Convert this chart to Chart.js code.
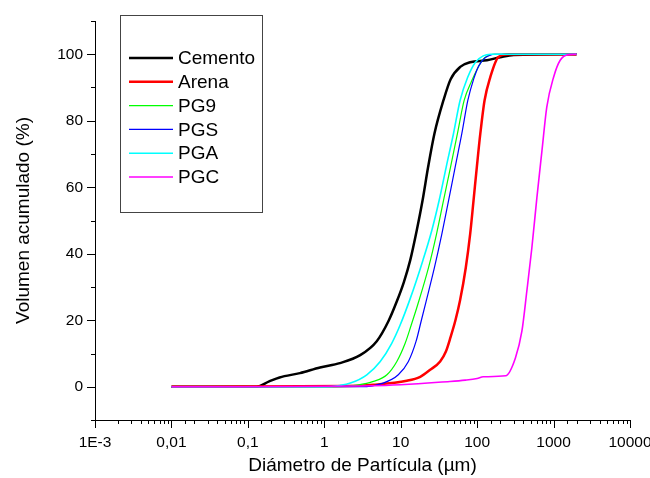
<!DOCTYPE html>
<html>
<head>
<meta charset="utf-8">
<script src="https://cdn.jsdelivr.net/npm/chart.js@4"></script>
<style>
  html, body { margin: 0; padding: 0; background: #fff; }
  #wrap { width: 650px; height: 478px; }
</style>
</head>
<body>
<div id="wrap"><canvas id="psdChart" width="650" height="478"></canvas></div>
<script>
// particle size distributions (cumulative volume, %)
var cementoX = [0.01, 0.13, 0.19, 0.26, 0.48, 0.88, 1.6, 2.95, 4.86, 6.9, 8.9, 11, 13.3, 16.2, 19.3, 22.8, 27.6, 36.2, 45, 60, 81, 134, 200, 300, 2000];
var cementoY = [0, 0, 1.6, 2.8, 4.1, 5.8, 7.1, 9.5, 13.7, 19.7, 25.7, 31.5, 38, 47, 56, 66, 76.1, 86.1, 92.5, 96.2, 97.6, 98.2, 99.1, 99.8, 100];

var arenaX = [0.01, 2, 4.4, 12, 18, 24.3, 32.8, 39, 45, 52, 59.8, 71, 81, 89.6, 99, 110, 125, 148, 190, 260, 2000];
var arenaY = [0, 0.2, 0.6, 1.8, 3, 5.1, 7.6, 10.6, 15, 20, 26, 35.8, 45.9, 55.9, 66, 76.1, 86.1, 93, 99.2, 100, 100];

var pg9X = [0.01, 1.5, 2.7, 4.4, 6.6, 8.9, 11.4, 13.7, 16.6, 23.1, 29.4, 36.2, 44.8, 55.2, 67.6, 85, 100, 120, 134, 160, 2000];
var pg9Y = [0, 0, 0.5, 1.6, 3.6, 7.6, 13, 18.5, 24.5, 35.8, 45.9, 55.9, 66, 76.1, 86.1, 92, 95.5, 98.5, 99.4, 100, 100];

var pgsX = [0.01, 3, 5.9, 9.3, 12.6, 15.9, 18.5, 21.5, 27.6, 34.5, 42.2, 51.5, 63, 75.5, 90, 105, 125, 148, 170, 2000];
var pgsY = [0, 0, 1.1, 3.6, 7.6, 13.7, 19.7, 25.7, 35.8, 45.9, 55.9, 66, 76.1, 86.1, 92.5, 96.5, 98.8, 99.7, 100, 100];

var pgaX = [0.01, 1, 1.6, 2.2, 3.6, 5.4, 7.6, 9.8, 13.3, 19.5, 25.5, 31.8, 39.3, 49, 59.8, 75, 95, 120, 150, 2000];
var pgaY = [0, 0, 0.4, 1.1, 3.6, 7.6, 13, 18.5, 26.5, 38, 47, 56, 66, 76.1, 86.1, 93, 97.6, 99.5, 100, 100];

var pgcX = [0.01, 4.4, 44, 70, 100, 120, 236, 316, 385, 447, 520, 605, 705, 815, 1000, 1220, 1570, 2000];
var pgcY = [0, 0.3, 1.6, 2, 2.5, 3.0, 3.3, 8.6, 16.7, 28.8, 41.8, 56.9, 71, 84.1, 93.1, 98.2, 99.9, 100];

var seriesNames = ["Cemento", "Arena", "PG9", "PGS", "PGA", "PGC"];
var seriesColors = ["#000000", "#ff0000", "#00ff00", "#0000ff", "#00ffff", "#ff00ff"];
var seriesWidths = [2.5, 2.5, 1.2, 1.2, 1.6, 1.6];

var xTickValues = [0.001, 0.01, 0.1, 1, 10, 100, 1000, 10000];
var xTickLabels = ["1E-3", "0,01", "0,1", "1", "10", "100", "1000", "10000"];

var FONT = "'Liberation Sans', Arial, sans-serif";

function toPoints(xs, ys) {
  return xs.map(function (x, i) { return { x: x, y: ys[i] }; });
}

var allX = [cementoX, arenaX, pg9X, pgsX, pgaX, pgcX];
var allY = [cementoY, arenaY, pg9Y, pgsY, pgaY, pgcY];

var datasets = seriesNames.map(function (name, i) {
  return {
    label: name,
    data: toPoints(allX[i], allY[i]),
    borderColor: seriesColors[i],
    backgroundColor: seriesColors[i],
    borderWidth: seriesWidths[i],
    pointRadius: 0,
    fill: false,
    cubicInterpolationMode: "monotone",
    order: seriesNames.length - i // later series painted on top
  };
});

function isDecade(v) {
  var l = Math.log10(v);
  return Math.abs(l - Math.round(l)) < 1e-6;
}

// outward tick marks, long on labelled values and short in between
var tickMarks = {
  id: "tickMarks",
  afterDraw: function (chart) {
    var c = chart.ctx;
    var xs = chart.scales.x, ys = chart.scales.y;
    var area = chart.chartArea;
    c.save();
    c.strokeStyle = "#000";
    c.lineWidth = 1;
    c.beginPath();
    xs.ticks.forEach(function (t) {
      var px = Math.round(xs.getPixelForValue(t.value)) + 0.5;
      var len = isDecade(t.value) ? 8 : 4;
      c.moveTo(px, area.bottom);
      c.lineTo(px, area.bottom + len);
    });
    ys.ticks.forEach(function (t) {
      var py = Math.round(ys.getPixelForValue(t.value)) + 0.5;
      var len = t.value % 20 === 0 ? 8 : 4;
      c.moveTo(area.left, py);
      c.lineTo(area.left - len, py);
    });
    c.stroke();
    c.restore();
  }
};

// framed legend in the upper left
var boxLegend = {
  id: "boxLegend",
  afterDraw: function (chart) {
    var c = chart.ctx;
    var bx = 120.5, by = 15.5, bw = 142, bh = 197;
    c.save();
    c.fillStyle = "#fff";
    c.fillRect(bx, by, bw, bh);
    c.strokeStyle = "#444";
    c.lineWidth = 1;
    c.strokeRect(bx, by, bw, bh);
    c.font = "19px " + FONT;
    c.textBaseline = "middle";
    c.fillStyle = "#000";
    chart.data.datasets.forEach(function (ds, i) {
      var y = 58 + i * 23.8;
      c.strokeStyle = ds.borderColor;
      c.lineWidth = ds.borderWidth;
      c.beginPath();
      c.moveTo(129, y);
      c.lineTo(173, y);
      c.stroke();
      c.fillText(ds.label, 178, y + 1);
    });
    c.restore();
  }
};

var ctx = document.getElementById("psdChart").getContext("2d");

var config = {
  type: "line",
  data: { datasets: datasets },
  options: {
    responsive: false,
    animation: false,
    layout: { padding: { top: 21, right: 20, left: 0, bottom: 0 } },
    plugins: {
      legend: { display: false },
      tooltip: { enabled: false }
    },
    scales: {
      x: {
        type: "logarithmic",
        min: 0.001,
        max: 10000,
        border: { display: true, color: "#000", width: 1 },
        grid: { drawOnChartArea: false, drawTicks: true, tickLength: 8, tickColor: "rgba(0,0,0,0)" },
        ticks: {
          autoSkip: false,
          maxRotation: 0,
          padding: 5,
          color: "#000",
          font: { family: FONT, size: 15.5 },
          callback: function (value) {
            var idx = xTickValues.findIndex(function (v) { return Math.abs(v - value) / v < 1e-6; });
            return idx >= 0 ? xTickLabels[idx] : "";
          }
        },
        title: {
          display: true,
          text: "Diámetro de Partícula (µm)",
          color: "#000",
          font: { family: FONT, size: 19 },
          padding: { top: 0, bottom: 1 }
        },
        afterFit: function (scale) {
          scale.height = 58;
          scale.paddingLeft = 0;
          scale.paddingRight = 0;
        }
      },
      y: {
        min: -10,
        max: 110,
        border: { display: true, color: "#000", width: 1 },
        grid: { drawOnChartArea: false, drawTicks: true, tickLength: 8, tickColor: "rgba(0,0,0,0)" },
        ticks: {
          stepSize: 10,
          padding: 4,
          color: "#000",
          font: { family: FONT, size: 15.5 },
          callback: function (value) {
            return value % 20 === 0 ? String(value) : "";
          }
        },
        title: {
          display: true,
          text: "Volumen acumulado (%)",
          color: "#000",
          font: { family: FONT, size: 19 },
          padding: { top: 12, bottom: 0 }
        },
        afterFit: function (scale) {
          scale.width = 95;
          scale.paddingTop = 0;
          scale.paddingBottom = 0;
        }
      }
    }
  },
  plugins: [tickMarks, boxLegend]
};

var psdChart = new Chart(ctx, config);
</script>
</body>
</html>
